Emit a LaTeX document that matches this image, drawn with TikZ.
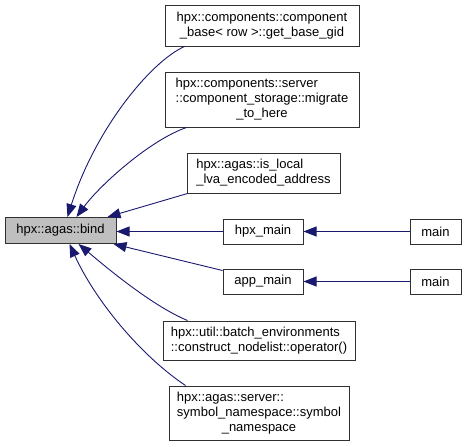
\documentclass[tikz,border=0pt]{standalone}
\usepackage{fontspec}
\setmainfont{Liberation Sans}
\usetikzlibrary{arrows.meta,calc}
\definecolor{edgecol}{HTML}{191970}
\definecolor{bindfill}{HTML}{BFBFBF}
\definecolor{boxline}{HTML}{303030}
\newcommand\mlab[2]{\begin{tabular}{@{}l@{}}#1\\\multicolumn{1}{@{}c@{}}{#2}\end{tabular}}
\tikzset{
  box/.style={draw=boxline, line width=1pt, fill=white, inner sep=0pt, align=center,
    font=\fontsize{13pt}{15pt}\selectfont, text=black},
  edge/.style={draw=edgecol, line width=0.9pt, -{Triangle[length=13pt,width=10pt]}},
}
\begin{document}
\begin{tikzpicture}[x=1pt,y=-1pt]
\useasboundingbox (0,0) rectangle (467,447);
\node[box, fill=bindfill, minimum width=111pt, minimum height=26pt] (bind) at (60.5,230.5) {hpx::agas::bind};
\node[box, minimum width=194pt, minimum height=41pt] (cb) at (262,25.5) {\mlab{hpx::components::component}{\_base< row >::get\_base\_gid}};
\node[box, minimum width=194pt, minimum height=55pt] (mig) at (262,99.5) {\mlab{hpx::components::server\\::component\_storage::migrate}{\_to\_here}};
\node[box, minimum width=153pt, minimum height=40pt] (isl) at (263.5,173) {\mlab{hpx::agas::is\_local}{\_lva\_encoded\_address}};
\node[box, minimum width=80pt, minimum height=25pt] (hm) at (263,231.5) {hpx\_main};
\node[box, minimum width=51pt, minimum height=25pt] (m1) at (435.5,231.5) {main};
\node[box, minimum width=80pt, minimum height=25pt] (am) at (263,281.5) {app\_main};
\node[box, minimum width=51pt, minimum height=25pt] (m2) at (435.5,281.5) {main};
\node[box, minimum width=192pt, minimum height=39pt] (bat) at (259,340.5) {\mlab{hpx::util::batch\_environments}{::construct\_nodelist::operator()}};
\node[box, minimum width=180pt, minimum height=54pt] (sym) at (259,413) {\mlab{hpx::agas::server::\\symbol\_namespace::symbol}{\_namespace}};

\draw[edge] ([xshift=20pt]cb.south west) .. controls (150,62) and (95,130) .. ([xshift=63pt]bind.north west);
\draw[edge] ([xshift=22pt]mig.south west) .. controls (150,140) and (100,185) .. ([xshift=72pt]bind.north west);
\draw[edge] ([xshift=1pt]isl.south west) -- ([xshift=103pt]bind.north west);
\draw[edge] (hm.west) -- (bind.east |- hm.west);
\draw[edge] ([yshift=-2pt]am.north west) -- ([xshift=-3pt]bind.south east);
\draw[edge] ([xshift=25pt]bat.north west) .. controls (150,305) and (100,262) .. ([xshift=74pt]bind.south west);
\draw[edge] ([xshift=17pt]sym.north west) .. controls (140,355) and (95,300) .. ([xshift=65pt]bind.south west);
\draw[edge] (m1.west) -- (hm.east);
\draw[edge] (m2.west) -- (am.east);
\end{tikzpicture}
\end{document}
